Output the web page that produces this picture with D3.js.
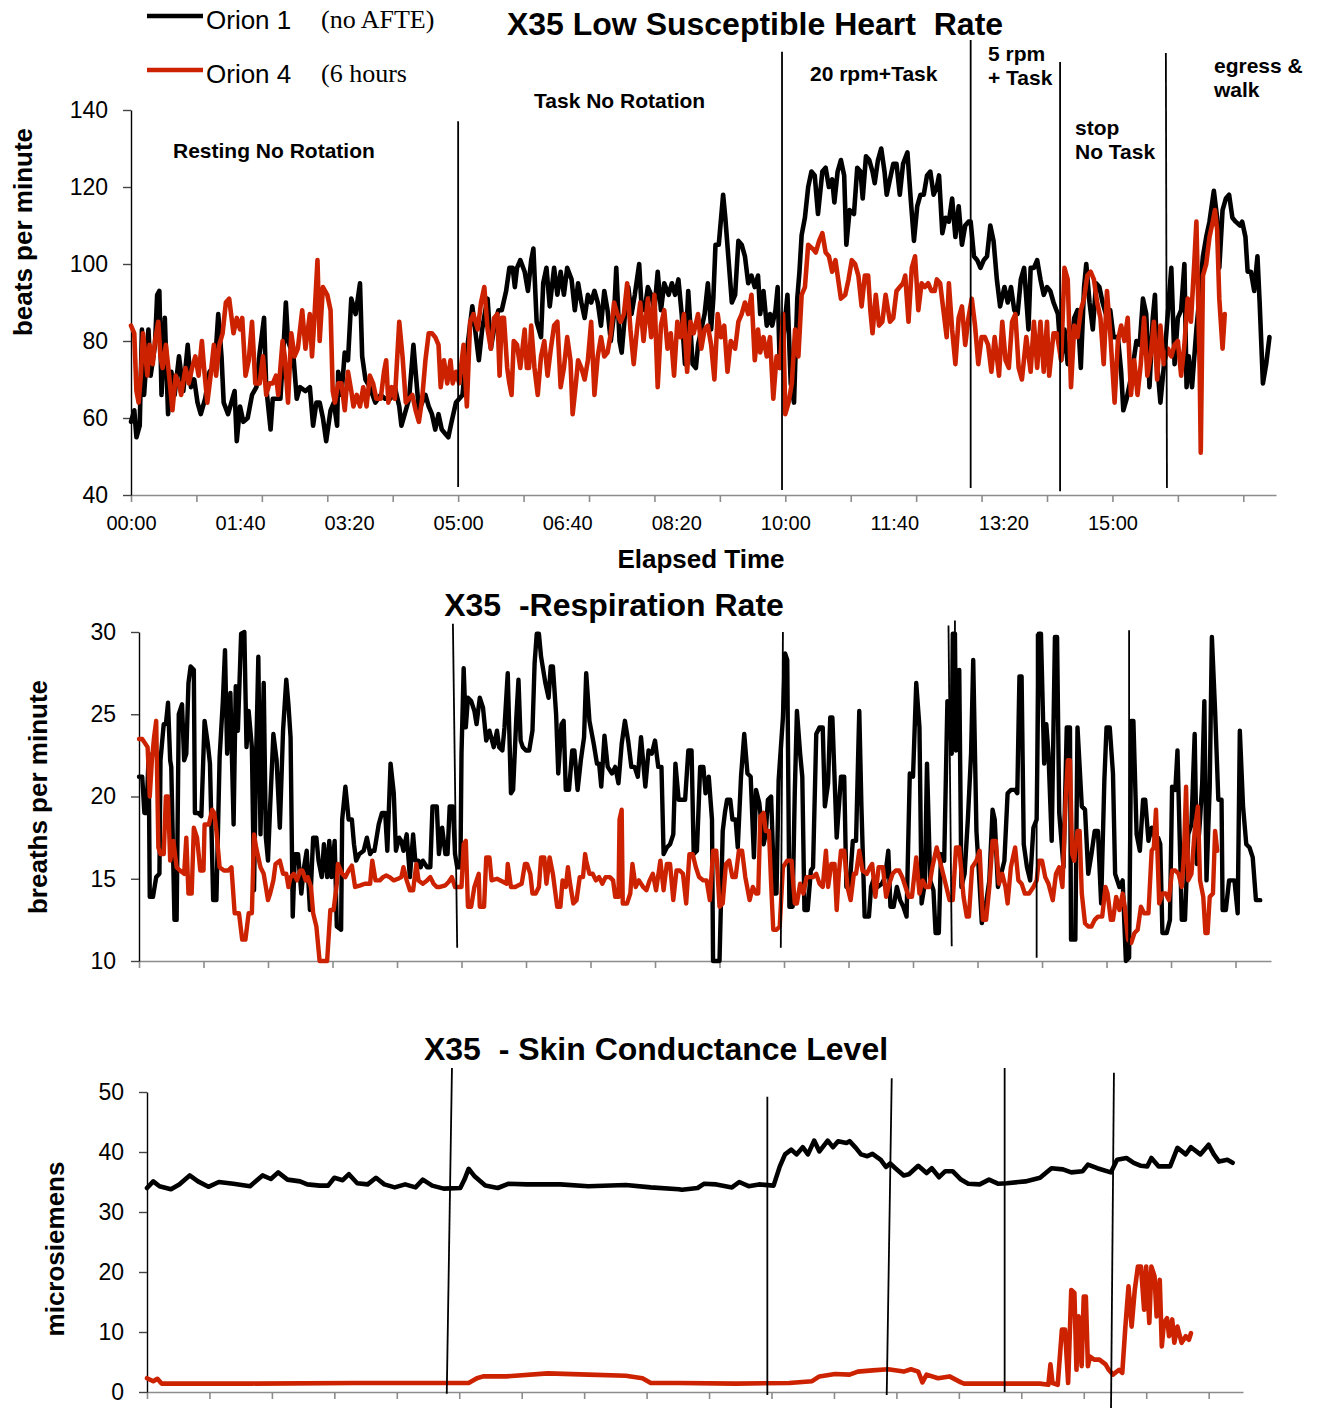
<!DOCTYPE html>
<html><head><meta charset="utf-8">
<script src="https://cdn.jsdelivr.net/npm/d3@7"></script>
<style>
body{margin:0;background:#fff}
svg{display:block}
text{fill:#000}
</style>
</head><body>
<svg id="c" width="1322" height="1408"></svg>
<script>
// ---------------- DATA ----------------
const seriesNames = ["Orion 1", "Orion 4"];
const legendNotes = ["(no AFTE)", "(6 hours"];
const titles = ["X35 Low Susceptible Heart  Rate", "X35  -Respiration Rate", "X35  - Skin Conductance Level"];
const yTitles = ["beats per minute", "breaths per minute", "microsiemens"];
const xTitle = "Elapsed Time";
const hrLabelMinutes = [0, 100, 200, 300, 400, 500, 600, 700, 800, 900];
const hrYTicks = [40, 60, 80, 100, 120, 140];
const respYTicks = [10, 15, 20, 25, 30];
const sclYTicks = [0, 10, 20, 30, 40, 50];
const phaseNames = [
  ["Resting No Rotation"], ["Task No Rotation"], ["20 rpm+Task"],
  ["5 rpm", "+ Task"], ["stop", "No Task"], ["egress &", "walk"]
];

// [elapsed minute, beats per minute]
const hrOrion1 = [[0,59],[3,62],[5,55],[8,58],[10,83],[12,66],[16,83],[18,71],[22,79],[24,92],[26,93],[28,66],[31,86],[34,61],[37,72],[40,66],[44,76],[48,67],[52,79],[55,68],[58,70],[61,64],[64,61],[68,65],[72,72],[77,74],[80,87],[83,76],[85,64],[89,61],[92,64],[95,67],[97,54],[100,63],[103,59],[107,60],[111,66],[115,68],[118,77],[122,86],[124,68],[128,57],[130,65],[137,65],[140,79],[142,90],[144,80],[149,76],[152,65],[155,68],[160,67],[164,68],[167,58],[170,64],[173,64],[176,60],[179,54],[183,62],[186,64],[189,58],[190,72],[193,66],[196,77],[199,75],[202,91],[206,87],[210,95],[212,76],[215,70],[219,68],[224,64],[229,66],[233,65],[238,65],[242,68],[246,63],[248,58],[252,62],[255,65],[259,79],[261,72],[264,62],[267,64],[270,66],[273,63],[276,61],[279,57],[282,61],[285,57],[288,56],[291,55],[294,59],[298,64],[301,65],[304,66],[307,75],[310,82],[313,89],[316,82],[319,75],[322,83],[325,88],[327,91],[330,78],[334,85],[337,88],
[340,88],[344,93],[347,99],[350,99],[352,94],[354,99],[357,101],[361,98],[364,93],[367,101],[369,104],[372,85],[376,81],[378,95],[381,99],[384,89],[388,99],[391,92],[394,98],[397,92],[400,99],[404,96],[407,88],[410,95],[413,90],[416,86],[419,92],[422,90],[425,93],[428,90],[431,84],[434,93],[437,88],[440,80],[443,87],[445,99],[448,80],[450,77],[453,87],[456,94],[459,87],[462,92],[466,100],[468,90],[471,88],[474,94],[477,92],[480,88],[483,98],[486,88],[489,95],[493,92],[496,95],[499,92],[502,96],[505,87],[508,74],[511,93],[515,74],[518,73],[520,79],[523,83],[526,87],[529,95],[532,83],[534,91],[536,105],[539,105],[543,118],[545,112],[548,101],[551,90],[554,92],[557,106],[560,105],[563,102],[566,95],[569,97],[572,94],[575,97],[577,87],[580,93],[583,84],[586,87],[588,84],[591,88],[593,94],[595,73],[598,80],[602,92],[605,69],[608,64],[611,91],[613,98],
[615,107.5],[618,112],[621,120],[624,124],[627,123],[630,113],[634,124],[637,125],[640,120],[643,122],[645,116],[648,124],[651,127],[654,123],[656,105],[659,114],[663,113],[666,125],[669,124],[671,117],[674,128],[677,127],[680,124],[682,121],[685,127],[688,130],[691,124],[693,118],[696,122],[699,126],[702,126],[705,118],[708,126],[712,129],[715,117],[718,106],[721,115],[724,118],[727,118],[730,123],[733,124],[736,118],[739,120],[741,123],[744,108],[747,112],[750,111],[753,117],[756,107],[759,115],[762,105],[765,110],[768,111],
[770,111],[773,102],[776,101],[779,99],[782,101],[785,102],[788,110],[791,106],[794,96],[797,89],[801,94],[804,90],[807,94],[810,88],[813,87],[816,96],[819,99],[823,83],[825,99],[828,99],[831,101],[834,96],[837,92],[840,94],[843,93],[846,90],[850,87],[853,75],[856,83],[859,74],[862,78],[865,86],[868,88],[871,73],[874,94],[876,100],[879,90],[882,83],[885,95],[888,94],[891,90],[895,86],[898,88],[901,81],[905,81],[908,72],[910,62],[913,65],[916,69],[919,74],[922,80],[925,79],[928,91],[931,87],[934,68],[937,86],[939,92],[941,74],[944,64],[947,73],[951,88],[954,99],[957,74],[960,86],[963,88],[966,100],[968,68],[970,76],[973,68],[977,83],[980,92],[983,102],[986,107],[989,111],[993,119],[996,112],[998,99],[1001,114],[1004,117],[1007,118],[1010,112],[1013,111],[1017,110],[1019,111],[1022,107],[1024,98],[1027,98],[1030,93],[1033,102],[1035,90],[1038,69],[1041,74],[1044,81]];

const hrOrion4 = [[0,84],[3,82],[5,67],[7,64],[9,71],[11,82],[13,77],[15,71],[17,79],[20,74],[22,80],[25,85],[27,76],[29,73],[32,79],[35,71],[38,62],[41,71],[44,69],[46,66],[50,73],[53,69],[56,73],[59,76],[62,71],[65,80],[67,73],[70,64],[73,71],[76,79],[78,71],[81,79],[84,82],[87,90],[90,91],[94,82],[97,86],[100,83],[102,86],[105,71],[108,75],[111,85],[114,69],[118,69],[121,76],[124,66],[127,69],[130,69],[133,71],[135,66],[139,80],[141,76],[144,64],[147,82],[150,76],[153,78],[157,88],[160,78],[164,87],[166,76],[168,85],[171,101],[173,80],[176,94],[180,92],[183,88],[185,67],[187,64],[190,69],[193,69],[196,62],[199,72],[202,67],[204,63],[207,66],[210,63],[213,68],[216,63],[219,71],[222,69],[225,65],[229,65],[232,72],[234,75],[236,64],[239,68],[242,65],[246,85],[249,76],[252,64],[255,65],[258,66],[261,62],[264,59],[267,65],[270,75],[273,82],[276,82],[279,81],[282,79],[284,68],[287,75],[290,69],[293,75],[295,69],[298,72],[301,69],[305,79],[308,63],[311,85],[314,87],[318,83],[321,90],[324,94],[327,83],[330,78],[333,86],[336,87],[338,71],
[340,86],[342,86],[345,73],[347,69],[349,66],[351,80],[354,79],[357,73],[361,83],[363,73],[365,73],[367,84],[370,73],[373,66],[376,76],[379,80],[382,71],[385,78],[388,84],[391,85],[394,68],[397,73],[400,81],[403,75],[405,61],[408,69],[410,75],[413,73],[416,70],[419,75],[422,85],[425,66],[428,76],[431,81],[434,76],[437,77],[440,82],[443,90],[446,87],[449,85],[452,87],[455,95],[458,83],[461,74],[464,83],[467,90],[470,80],[474,91],[477,81],[480,92],[483,68],[486,84],[489,88],[492,78],[495,82],[498,71],[501,85],[504,81],[507,87],[510,72],[513,85],[516,82],[520,87],[523,78],[526,83],[529,84],[532,79],[535,70],[538,87],[541,81],[544,84],[547,72],[550,80],[554,78],[557,85],[560,87],[563,90],[566,87],[569,92],[572,75],[575,83],[577,77],[580,81],[583,76],[586,81],[589,65],[592,76],[595,73],[598,87],[600,61],[603,64],[606,69],[609,83],[612,76],[615,92],[618,94],[621,105],[625,104],[628,103],[631,106],[634,108],[637,103],[640,102],[643,98],[646,101],[651,91],
[655,92],[658,96],[661,101],[664,100],[667,97],[670,89],[673,97],[676,97],[678,88],[680,82],[683,92],[686,84],[689,85],[692,92],[696,85],[699,86],[702,93],[705,94],[708,95],[710,97],[713,85],[716,99],[719,102],[722,88],[725,95],[728,94],[731,95],[734,93],[737,93],[739,96],[742,95],[745,88],[748,81],[750,95],[753,83],[756,74],[759,86],[762,89],[765,79],[768,86],[771,91],[774,84],[777,74],[780,81],[783,81],[786,79],[789,72],[792,81],[796,71],[799,85],[802,75],[805,73],[808,85],[811,87],[814,73],[817,70],[821,81],[825,72],[828,85],[831,73],[834,85],[837,72],[840,85],[842,71],[846,82],[849,82],[853,75],[856,99],[859,96],[862,68],[865,84],[868,81],[871,88],[874,91],[877,97],[880,98],[883,96],[886,90],[889,86],[892,74],[895,93],[898,82],[902,64],[905,80],[908,84],[911,80],[914,86],[917,66],[920,75],[923,66],[926,74],[929,86],[932,71],[935,76],[938,85],[941,70],[944,84],[947,74],[951,78],[954,76],[957,79],[960,80],[963,71],[966,79],[969,91],[972,85],[975,100],[977,111],[980,73],[981,51],[983,97],[986,100],[989,107],[992,111],[994,114],[996,109],[998,91],[1001,78],[1003,87]];

// [elapsed minute, breaths per minute]
const respOrion1 = [[0,21.2],[3,21.2],[5,19],[7,19],[9,22.6],[10,13.9],[13,13.9],[16,15.1],[19,15.3],[20,22.2],[23,24.4],[25,24.4],[27,25.7],[29,22.2],[30,21.8],[33,12.5],[35,12.5],[37,25],[40,25.6],[42,22.2],[44,22.6],[46,26.9],[48,27.9],[51,27.7],[52,19],[55,19],[58,18.8],[61,24.6],[64,23.2],[66,22],[69,13.7],[72,13.7],[75,22.4],[78,25.8],[80,28.9],[82,22.6],[85,26.3],[88,18.3],[90,26.7],[92,24],[95,29.9],[98,30],[100,23],[102,25.2],[105,23],[107,14.3],[109,22.6],[111,28.5],[113,17.7],[116,26.9],[118,17.5],[120,16.1],[122,19.4],[125,23.8],[128,22.2],[131,18.1],[134,24],[137,27.1],[139,25.6],[141,23.6],[143,12.7],[145,16.5],[148,16.5],[151,14.1],[153,15.5],[156,16.7],[159,13.1],[162,17.5],[165,17.5],[167,16.1],[170,15.1],[172,17.1],[175,15.1],[177,17.3],[179,15.1],[182,17.3],[184,12.1],[188,11.9],[189,18.6],[192,20.6],[195,18.6],[198,18.6],[200,17.1],[202,16.1],[205,16.5],[209,16.7],[212,17.5],[215,16.5],[217,16.7],[219,16.7],[223,18.3],[226,19],[229,19],[231,16.7],[234,22],[237,20.2],[239,16.7],[242,17.5],[244,17.3],[246,16.7],[249,17.7],[252,15.1],[255,17.7],[257,16.1],[260,16.1],[262,15.7],[264,16.1],[268,15.7],[271,15.7],[273,19.4],[277,19.4],[279,16.5],[282,18.1],[285,16.5],[287,16.5],[289,19.4],[292,19.4],[294,16.5],[296,15.7],[299,15.7],[300,22.6],[302,27.8],[304,24.2],[306,26],[309,25.8],[312,25.2],[314,24.4],[317,26],[320,25.4],[323,23.4],[326,24],[330,23],[333,24],
[335,23],[338,22.8],[340,24.2],[343,27.5],[346,20.2],[348,20.4],[351,24.8],[353,27.1],[355,23.4],[357,23],[360,22.8],[363,22.8],[366,24],[368,28.1],[370,29.9],[372,29.9],[374,28.5],[378,26.9],[381,26],[383,27.9],[385,27.9],[388,25],[390,21.4],[393,24.4],[395,24.6],[397,20.4],[400,20.4],[403,22.8],[405,22.8],[408,20.4],[411,22.2],[414,23.6],[416,27.5],[419,24.6],[423,23.2],[426,22],[428,22],[430,20.6],[433,23.7],[436,21.8],[440,21.4],[443,21.8],[446,20.8],[449,23.2],[452,24.6],[455,23.4],[458,21.8],[461,21.8],[464,21.2],[467,23.6],[471,20.6],[474,22.8],[477,22.6],[480,23.4],[483,21.8],[486,21.8],[488,16.5],[491,16.9],[494,17.1],[497,17.7],[499,22],[502,19.8],[505,19.8],[508,19.8],[511,22.8],[514,22.8],[516,16.5],[519,16.7],[522,21.8],[525,21.8],[527,20.2],[530,21.2],[533,18.6],[534,10],[537,10],[540,10],[543,17.9],[545,19],[547,19.8],[550,19.8],[552,18.6],[555,18.6],[557,16.9],[560,21.2],[563,23.8],[566,21.4],[569,21.2],[572,16.3],[574,20.4],[577,19.6],[581,17.1],[583,17.7],[585,19.8],[588,20],[591,14.1],[593,14.1],[595,21],[599,24.8],[601,28.7],[603,28.3],[605,13.3],[608,13.3],[610,20.2],[612,25.2],[615,22.6],[617,21.2],[619,13.1],[622,13.1],[625,15.5],[627,15.7],[630,23.8],[633,24.2],[636,24.2],[638,19.4],[641,20.8],[643,24.8],[645,24.8],[649,17.5],
[653,21.2],[656,21.2],[658,14.5],[661,14.5],[664,17.3],[667,17.3],[670,25.2],[672,19.4],[675,12.7],[679,12.7],[681,14.5],[684,15.1],[687,14.5],[691,14.7],[694,15.1],[697,16.7],[699,13.3],[702,13.3],[705,14.5],[708,13.7],[711,13.3],[714,12.7],[717,21.4],[720,21.2],[723,26.9],[726,24.2],[728,13.5],[731,14.7],[733,22],[736,14.9],[739,14.3],[741,11.7],[744,11.7],[746,16.5],[749,16.1],[752,25.8],[754,25.6],[756,22.6],[757,29.9],[759,29.9],[760,22.8],[763,27.7],[765,14.5],[768,15.3],[771,18.6],[774,22.6],[776,28.3],[779,17.9],[781,15.7],[784,12.3],[788,13.5],[791,14.9],[794,19.2],[796,18.6],[799,14.5],[802,15.3],[805,16.1],[808,20.2],[811,20.4],[815,20.4],[817,20.2],[819,27.3],[821,27.3],[823,17.1],[826,15.7],[829,14.9],[832,18.1],[835,18.6],[837,29.9],[839,29.9],[842,22],[844,24.4],[846,22.6],[849,17.3],[852,29.7],[854,29.7],[856,19],[860,15.7],[863,24.2],[866,24.2],[867,11.3],[871,11.3],[873,24.2],[877,19.4],[880,19.2],[883,15.3],[886,16.5],[889,17.9],[892,17.9],[895,13.5],[898,21],[900,24.2],[903,24.2],[906,21.4],[908,15.3],[912,14.5],[915,14.9],[918,10],[921,10.2],[923,24.6],[925,24.6],[928,17.7],[931,16.7],[934,19.8],[936,19.8],[939,17.3],[942,18.1],[945,17.5],[948,17.5],[950,17.1],[952,11.7],[956,11.7],[959,12.5],[961,20.6],[964,20.4],[966,22.8],[970,12.5],[973,12.5],[976,17.7],[979,18.3],[982,23.8],[984,15.9],[987,18.6],[989,20.8],[991,25.8],[993,14.9],[996,20.6],[998,29.7],[1001,25.2],[1004,19.8],[1007,19.8],[1008,13.1],[1011,13.1],[1014,14.9],[1019,14.9],[1022,12.9],[1024,24],[1027,19.4],[1030,17.1],[1033,16.9],[1036,16.3],[1039,13.7],[1043,13.7]];

const respOrion4 = [[0,23.5],[3,23.5],[6,23.2],[8,23],[10,20],[12,22.2],[14,23.6],[16,24.6],[18,16.9],[20,16.5],[23,16.5],[25,20],[27,20],[29,16.1],[32,17.3],[35,15.7],[38,15.5],[42,15.3],[44,17.5],[46,14.1],[49,14.1],[51,18.1],[54,17.5],[57,15.5],[60,15.5],[61,18.3],[65,18.3],[68,19.2],[70,19],[72,17.9],[75,15.7],[79,15.5],[83,15.5],[86,15.7],[89,12.9],[93,12.9],[96,11.3],[99,11.3],[102,12.9],[105,12.9],[107,17.7],[109,16.9],[113,15.7],[116,15.3],[118,14.5],[120,13.7],[122,14.1],[125,14.9],[127,15.9],[131,16.1],[134,15.3],[137,15.3],[139,14.5],[141,15.1],[144,15.3],[147,14.9],[150,15.5],[152,15.5],[155,14.9],[157,15.1],[160,14.5],[162,12.9],[165,12.1],[168,10],[171,10],[175,10],[178,13.1],[181,13.1],[184,14.7],[185,15.9],[189,15.3],[192,15.1],[195,15.5],[198,15.8],[201,14.5],[206,14.6],[210,14.7],[215,14.7],[217,16.1],[220,14.9],[224,14.9],[227,15.1],[230,15.2],[233,15.1],[237,14.9],[241,15],[244,15.1],[246,15.7],[249,14.9],[252,14.3],[255,14.3],[258,15.9],[260,14.9],[264,14.7],[268,14.9],[271,15.1],[274,14.7],[277,14.5],[280,14.5],[285,14.6],[288,14.8],[291,15.1],[294,14.5],[297,14.5],[300,14.5],[302,17.1],[304,17.3],[306,13.3],[309,13.3],[312,14.5],[316,15.3],[317,13.3],[321,13.3],[323,16.3],[326,16.3],[328,14.9],[333,15],
[339,14.8],[342,14.7],[343,15.9],[346,14.5],[350,14.5],[353,14.6],[356,14.7],[359,15.9],[361,15.9],[364,15.3],[366,14.1],[369,14.1],[372,14.5],[374,16.3],[377,16.3],[379,14.7],[382,16.3],[385,15.3],[387,14.3],[389,13.3],[392,13.3],[394,14.9],[397,14.5],[399,15.7],[401,14.7],[404,13.5],[407,13.7],[410,15.1],[413,15.1],[415,16.5],[416,16.1],[419,15.3],[422,15.3],[425,14.9],[428,15.1],[431,14.7],[434,15.1],[438,15.1],[441,14.9],[443,13.9],[446,13.9],[447,18.6],[449,19.2],[450,13.5],[454,13.5],[457,14.1],[459,15.9],[462,14.5],[465,14.9],[469,14.5],[472,14.3],[475,14.9],[478,15.3],[481,14.3],[485,16.1],[488,14.3],[491,15.9],[494,15.9],[497,13.7],[500,15.5],[503,15.5],[506,15.3],[509,13.5],[512,16.5],[515,16.5],[518,15.7],[521,15.1],[525,14.9],[528,14.9],[531,13.7],[534,16.7],[537,16.7],[540,13.3],[543,13.5],[546,15.9],[549,16.1],[552,15.1],[555,15.1],[558,16.7],[561,16.7],[564,15.1],[568,13.7],[571,14.5],[574,14.1],[576,14.1],[578,18.8],[581,19],[583,17.9],[586,17.9],[588,14.7],[590,11.9],[593,11.9],[596,12.1],[599,15.7],[603,16.1],[607,16.1],[610,13.5],[612,13.5],[615,14.7],[618,14.1],[621,15.1],[624,15.1],[627,15.1],[630,15.3],[633,14.7],[636,14.5],[639,16.7],[641,14.5],[644,15.9],[647,15.9],[649,13.1],
[651,15.3],[653,16.7],[656,16.7],[659,14.5],[662,13.7],[665,15.3],[667,15.3],[670,16.7],[673,15.5],[677,15.3],[680,15.7],[682,15.9],[685,13.9],[688,15.7],[692,15.7],[695,13.9],[698,14.7],[701,15.3],[704,15.5],[707,15.5],[710,15.1],[713,14.5],[716,13.9],[719,13.9],[723,16.3],[726,14.1],[729,14.9],[732,14.5],[735,14.5],[738,15.7],[742,16.9],[745,16.1],[748,15.3],[751,14.5],[754,13.7],[757,13.7],[760,16.9],[763,16.9],[767,13.9],[770,12.7],[772,12.7],[775,15.7],[779,16.1],[782,16.7],[785,12.5],[788,12.5],[791,14.5],[794,17.3],[797,17.3],[800,14.7],[803,15.3],[806,14.5],[808,13.5],[811,15.7],[815,16.9],[818,14.9],[821,14.7],[824,14.1],[828,14.1],[832,14.5],[835,14.9],[837,16.1],[840,16.1],[843,15.1],[846,14.7],[850,13.7],[853,15.3],[856,15.7],[859,14.5],[862,19.8],[864,22.2],[866,22.2],[868,16.5],[870,16.1],[873,17.9],[875,17.9],[877,14.1],[880,12.3],[883,12.1],[886,12.1],[889,12.5],[892,12.7],[896,12.7],[899,14.5],[901,14.1],[904,12.5],[906,12.5],[909,13.9],[912,13.1],[915,14.1],[917,13.3],[920,11.3],[923,11.1],[926,11.7],[929,11.9],[932,13.3],[935,12.9],[939,12.9],[942,16.7],[944,16.9],[946,19.2],[949,13.5],[952,14.1],[955,14.1],[958,13.7],[961,15.5],[964,15.5],[967,15.3],[970,14.5],[972,16.5],[974,20.6],[976,14.9],[979,15.3],[982,17.9],[985,19.4],[987,14.9],[990,13.9],[992,11.7],[994,11.7],[996,13.9],[999,14.1],[1001,17.9],[1003,16.7]];

// [elapsed minute, microsiemens]
const sclOrion1 = [[0,34],[6,35.1],[12,34.3],[23,33.8],[31,34.6],[41,36.1],[49,35.1],[59,34.2],[69,35],[83,34.7],[99,34.3],[111,36.1],[119,35.5],[126,36.6],[135,35.4],[147,35.1],[154,34.6],[166,34.4],[174,34.4],[180,35.7],[188,35.3],[194,36.3],[202,34.8],[212,34.6],[220,35.7],[228,34.6],[238,34.1],[248,34.6],[258,34.1],[265,35.4],[274,34.4],[285,33.9],[301,34],[305,35.4],[309,37.2],[315,35.9],[325,34.4],[337,34],[347,34.7],[365,34.6],[397,34.6],[424,34.3],[460,34.5],[484,34.1],[511,33.8],[514,33.7],[529,34],[535,34.7],[547,34.6],[562,34.1],[569,35],[578,34.3],[588,34.6],[602,34.4],[608,37.6],[613,39.6],[619,40.4],[624,39.6],[630,40.8],[635,39.6],[641,41.9],[646,40.1],[654,41.9],[659,40.8],[664,41.8],[672,41.5],[675,41.8],[681,40.7],[686,39.6],[692,39.3],[697,39.7],[705,38.7],[710,37.5],[714,38.1],[719,37.3],[727,36.1],[732,36.3],[741,37.7],[749,36.5],[754,37.3],[761,35.8],[767,36.8],[774,36.8],[782,35.4],[789,34.7],[800,34.6],[809,35.4],[818,34.7],[826,34.8],[844,35.1],[858,35.7],[869,37.3],[880,37.1],[888,36.6],[899,36.8],[904,37.9],[913,37.3],[926,36.6],[932,38.7],[941,39],[948,38.2],[955,37.7],[961,37.6],[965,39],[972,37.6],[983,37.6],[990,40.7],[998,39.6],[1003,40.8],[1012,39.6],[1020,41.2],[1025,39.6],[1030,38.4],[1038,38.7],[1043,38.2]];

const sclOrion4 = [[0,2.3],[6,1.8],[10,2.2],[14,1.4],[100,1.4],[200,1.5],[309,1.5],[317,2.3],[323,2.6],[345,2.6],[385,3.1],[424,2.9],[460,2.7],[476,2.3],[484,1.5],[511,1.5],[566,1.4],[617,1.5],[639,1.8],[646,2.6],[661,3],[675,2.9],[683,3.4],[697,3.6],[712,3.8],[727,3.4],[734,3.8],[741,3.4],[745,1.6],[749,2.9],[760,2.3],[771,2.6],[782,1.6],[785,1.4],[858,1.4],[866,1.2],[868,4.6],[870,1.5],[875,1.2],[879,10.4],[882,10.4],[885,1.5],[888,17],[891,16.5],[893,3.7],[895,12.6],[898,4.3],[900,15.9],[902,15.9],[904,4.3],[906,5.9],[910,5.4],[915,5.4],[921,4.6],[924,3.7],[928,2.9],[934,3.7],[937,3.2],[940,10.9],[943,17.6],[946,10.9],[949,17],[952,20.9],[955,20.9],[958,13.7],[960,20.9],[963,11.5],[965,20.9],[968,19.3],[970,12.6],[973,18.7],[975,7.6],[977,11.5],[980,12.3],[982,9.3],[985,12.1],[987,8.2],[990,10.9],[994,8.2],[998,9.3],[1001,8.7],[1003,9.8]];

// hand-drawn phase boundary lines: [minute at top, value at top, minute at bottom, value at bottom]
const hrPhaseLines = [[300,137.1,300,42.1],[597,155.1,597,41.3],[770,158.2,770,41.8],[852,152.5,852,41],[949,154.8,950,41.8]];
const respPhaseLines = [[292,30.5,296,10.8],[599,30,597,10.8],[753,30.4,756,10.9],[759,30.7,759,25.9],[835,29.9,835,10.2],[921,30.1,921,10.1]];
const sclPhaseLines = [[293,54,288,-0.3],[596,49.2,596,-0.5],[715.5,52.3,710.7,-0.5],[824,54,824,0],[929,53.2,926.2,-2.7]];

// ---------------- DRAWING ----------------
const RED = "#cc2200";
const SANS = "'Liberation Sans', Arial, sans-serif";
const SERIF = "'Liberation Serif', 'Times New Roman', serif";
const svg = d3.select("#c").style("font-family", SANS);

function fmtHM(m){ return d3.format("02d")(Math.floor(m/60)) + ":" + d3.format("02d")(m % 60); }

function drawPanel(o){
  const x = d3.scaleLinear().domain([0, o.xMax]).range([o.x0, o.x1]);
  const y = d3.scaleLinear().domain(o.yDomain).range([o.yBottom, o.yTop]);
  const g = svg.append("g");

  const xa = g.append("g").attr("transform", `translate(0,${o.yBottom})`)
    .call(d3.axisBottom(x).tickValues(d3.range(0, o.xMax - 20, 60)).tickSize(7).tickSizeOuter(0).tickFormat(""));
  xa.select(".domain").attr("stroke", "#8c8c8c").attr("stroke-width", 1.6);
  xa.selectAll(".tick line").attr("stroke", "#8c8c8c").attr("stroke-width", 1.6);

  if (o.labels) {
    const xl = g.append("g").attr("transform", `translate(0,${o.yBottom})`)
      .call(d3.axisBottom(x).tickValues(o.labels).tickSize(0).tickPadding(21).tickFormat(fmtHM));
    xl.select(".domain").remove();
    xl.selectAll("text").attr("font-size", 20).style("font-family", SANS).attr("fill", "#000");
  }

  const ya = g.append("g").attr("transform", `translate(${o.x0},0)`)
    .call(d3.axisLeft(y).tickValues(o.yTicks).tickSize(8).tickPadding(15).tickSizeOuter(0));
  ya.select(".domain").attr("stroke", "#000").attr("stroke-width", 1.4);
  ya.selectAll(".tick line").attr("stroke", "#444").attr("stroke-width", 1.4);
  ya.selectAll("text").attr("font-size", 23).style("font-family", SANS).attr("fill", "#000");

  g.append("text").attr("transform", `translate(${o.yTitleX},${o.yTitleY}) rotate(-90)`)
    .attr("text-anchor", "middle").attr("dy", "0.36em")
    .attr("font-size", 26).attr("font-weight", "bold").text(o.yTitle);

  g.append("text").attr("x", o.titleX).attr("y", o.titleY).attr("text-anchor", "middle")
    .attr("font-size", 32).attr("font-weight", "bold").style("white-space", "pre").text(o.title);

  const line = d3.line().x(d => x(d[0])).y(d => y(d[1]));
  g.append("path").datum(o.s1).attr("d", line).attr("fill", "none").attr("stroke", "#000")
    .attr("stroke-width", o.lw).attr("stroke-linejoin", "round").attr("stroke-linecap", "round");
  g.append("path").datum(o.s4).attr("d", line).attr("fill", "none").attr("stroke", RED)
    .attr("stroke-width", o.lw).attr("stroke-linejoin", "round").attr("stroke-linecap", "round");

  g.selectAll("line.phase").data(o.phases).join("line").attr("class", "phase")
    .attr("x1", d => x(d[0])).attr("y1", d => y(d[1]))
    .attr("x2", d => x(d[2])).attr("y2", d => y(d[3]))
    .attr("stroke", "#000").attr("stroke-width", 1.8);
  return {x, y, g};
}

// Panel 1: heart rate
drawPanel({x0:131, x1:1276, xMax:1050, yTop:110, yBottom:495, yDomain:[40,140], yTicks:hrYTicks,
  labels:hrLabelMinutes, yTitle:yTitles[0], yTitleX:23, yTitleY:232, title:titles[0], titleX:755, titleY:35,
  s1:hrOrion1, s4:hrOrion4, lw:4.6, phases:hrPhaseLines});

svg.append("text").attr("x", 701).attr("y", 568).attr("text-anchor", "middle")
  .attr("font-size", 26).attr("font-weight", "bold").text(xTitle);

const annPos = [[173,158],[534,108],[810,81],[988,61],[1075,135],[1214,73]];
phaseNames.forEach((lines, i) => {
  lines.forEach((t, j) => {
    svg.append("text").attr("x", annPos[i][0]).attr("y", annPos[i][1] + j*24)
      .attr("font-size", 21).attr("font-weight", "bold").style("white-space", "pre").text(t);
  });
});

// legend
[["#000", 16, 29], [RED, 70, 83]].forEach((c, i) => {
  svg.append("line").attr("x1", 147).attr("x2", 203).attr("y1", c[1]).attr("y2", c[1])
    .attr("stroke", c[0]).attr("stroke-width", 4.6);
  svg.append("text").attr("x", 206).attr("y", c[2]).attr("font-size", 26).text(seriesNames[i]);
  svg.append("text").attr("x", 321).attr("y", c[2] - 1).attr("font-size", 26)
    .style("font-family", SERIF).text(legendNotes[i]);
});

// Panel 2: respiration
drawPanel({x0:139, x1:1271, xMax:1053, yTop:632, yBottom:961, yDomain:[10,30], yTicks:respYTicks,
  labels:null, yTitle:yTitles[1], yTitleX:38, yTitleY:797, title:titles[1], titleX:614, titleY:616,
  s1:respOrion1, s4:respOrion4, lw:4.4, phases:respPhaseLines});

// Panel 3: skin conductance
drawPanel({x0:147, x1:1243, xMax:1053, yTop:1092, yBottom:1392, yDomain:[0,50], yTicks:sclYTicks,
  labels:null, yTitle:yTitles[2], yTitleX:55, yTitleY:1249, title:titles[2], titleX:656, titleY:1060,
  s1:sclOrion1, s4:sclOrion4, lw:4.6, phases:sclPhaseLines});
</script>
</body></html>
